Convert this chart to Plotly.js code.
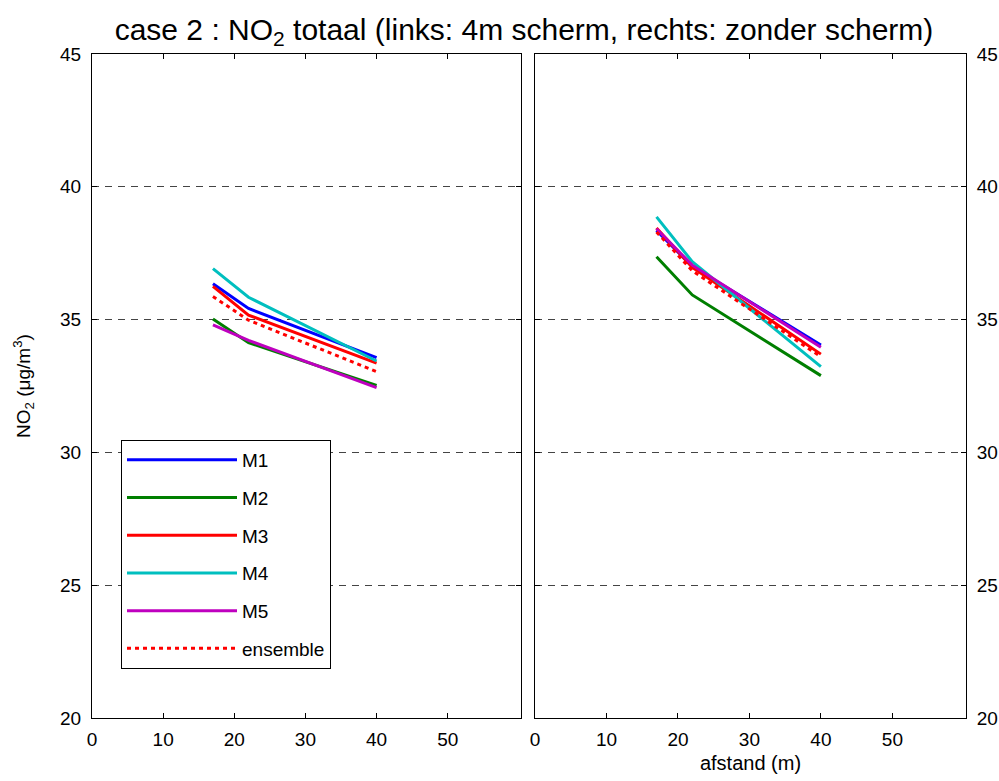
<!DOCTYPE html>
<html>
<head>
<meta charset="utf-8">
<script src="https://cdn.plot.ly/plotly-3.0.1.min.js"></script>
<style>html,body{margin:0;padding:0;background:#fff;}#chart{width:999px;height:781px;}</style>
</head>
<body>
<div id="chart"></div>
<script>
// distances (m)
const afstand = [17, 22, 40];
const seriesNames = ['M1', 'M2', 'M3', 'M4', 'M5', 'ensemble'];
const seriesColors = ['#0000ff', '#007f00', '#ff0000', '#00bfbf', '#bf00bf', '#ff0000'];
// left panel: 4m scherm
const links_M1 = [36.35, 35.42, 33.57];
const links_M2 = [35.02, 34.13, 32.52];
const links_M3 = [36.25, 35.17, 33.36];
const links_M4 = [36.92, 35.84, 33.44];
const links_M5 = [34.80, 34.22, 32.44];
const links_ens = [35.87, 34.98, 33.04];
// right panel: zonder scherm
const rechts_M1 = [38.36, 37.00, 34.04];
const rechts_M2 = [37.37, 35.93, 32.89];
const rechts_M3 = [38.45, 36.97, 33.70];
const rechts_M4 = [38.87, 37.18, 33.23];
const rechts_M5 = [38.42, 37.05, 33.96];
const rechts_ens = [38.30, 36.84, 33.60];
const xTicks = [0, 10, 20, 30, 40, 50];
const yTicks = [20, 25, 30, 35, 40, 45];

const links = [links_M1, links_M2, links_M3, links_M4, links_M5, links_ens];
const rechts = [rechts_M1, rechts_M2, rechts_M3, rechts_M4, rechts_M5, rechts_ens];

const FONT = 'Liberation Sans, Arial, Helvetica, sans-serif';
const DOT = '4px,4px';
const traces = [];
links.forEach((ys, i) => {
  traces.push({
    x: afstand, y: ys, type: 'scatter', mode: 'lines', name: seriesNames[i],
    xaxis: 'x', yaxis: 'y', legendgroup: 'g' + i, showlegend: true,
    line: {color: seriesColors[i], width: 3, dash: i === 5 ? DOT : 'solid'}
  });
});
rechts.forEach((ys, i) => {
  traces.push({
    x: afstand, y: ys, type: 'scatter', mode: 'lines', name: seriesNames[i],
    xaxis: 'x2', yaxis: 'y2', legendgroup: 'g' + i, showlegend: false,
    line: {color: seriesColors[i], width: 3, dash: i === 5 ? DOT : 'solid'}
  });
});

const axX = {
  range: [0, 60.3], tickvals: xTicks, ticktext: xTicks.map(String),
  ticks: 'inside', ticklen: 5, tickcolor: '#000', showline: true, linecolor: '#000', linewidth: 1,
  mirror: 'ticks', showgrid: false, zeroline: false, ticklabelstandoff: 4,
  tickfont: {family: FONT, size: 19, color: '#000'}
};
const axY = {
  range: [20, 45], tickvals: yTicks, ticktext: yTicks.map(String),
  ticks: 'inside', ticklen: 5, tickcolor: '#000', showline: true, linecolor: '#000', linewidth: 1,
  mirror: 'ticks', showgrid: true, gridcolor: '#444', gridwidth: 1, griddash: '7px,6px',
  zeroline: false, ticklabelstandoff: 6,
  tickfont: {family: FONT, size: 19, color: '#000'}
};

const layout = {
  width: 999, height: 781,
  margin: {l: 0, r: 0, t: 54, b: 63},
  paper_bgcolor: '#fff', plot_bgcolor: '#fff',
  font: {family: FONT, color: '#000'},
  title: {
    text: 'case 2 : NO<sub>2</sub> totaal (links: 4m scherm, rechts: zonder scherm)',
    font: {family: FONT, size: 30, color: '#000'},
    x: 0.5245, xanchor: 'center', xref: 'paper',
    y: 0.962, yanchor: 'middle', yref: 'container'
  },
  xaxis: Object.assign({}, axX, {domain: [92/999, 521/999], anchor: 'y'}),
  yaxis: Object.assign({}, axY, {anchor: 'x', side: 'left',
    title: {text: 'NO<sub>2</sub> (μg/m<sup>3</sup>)', font: {family: FONT, size: 19, color: '#000'}, standoff: 24}}),
  xaxis2: Object.assign({}, axX, {domain: [535/999, 966/999], anchor: 'y2',
    title: {text: 'afstand (m)', font: {family: FONT, size: 20, color: '#000'}, standoff: 7}}),
  yaxis2: Object.assign({}, axY, {anchor: 'x2', side: 'right'}),
  showlegend: true,
  legend: {
    x: 121/999, xanchor: 'left', y: (718 - 440) / 664, yanchor: 'top',
    bgcolor: '#fff', bordercolor: '#000', borderwidth: 1,
    font: {family: FONT, size: 19, color: '#000'},
    itemwidth: 110, tracegroupgap: 10, traceorder: 'grouped'
  }
};

Plotly.newPlot('chart', traces, layout, {staticPlot: true, displayModeBar: false});
</script>
</body>
</html>
